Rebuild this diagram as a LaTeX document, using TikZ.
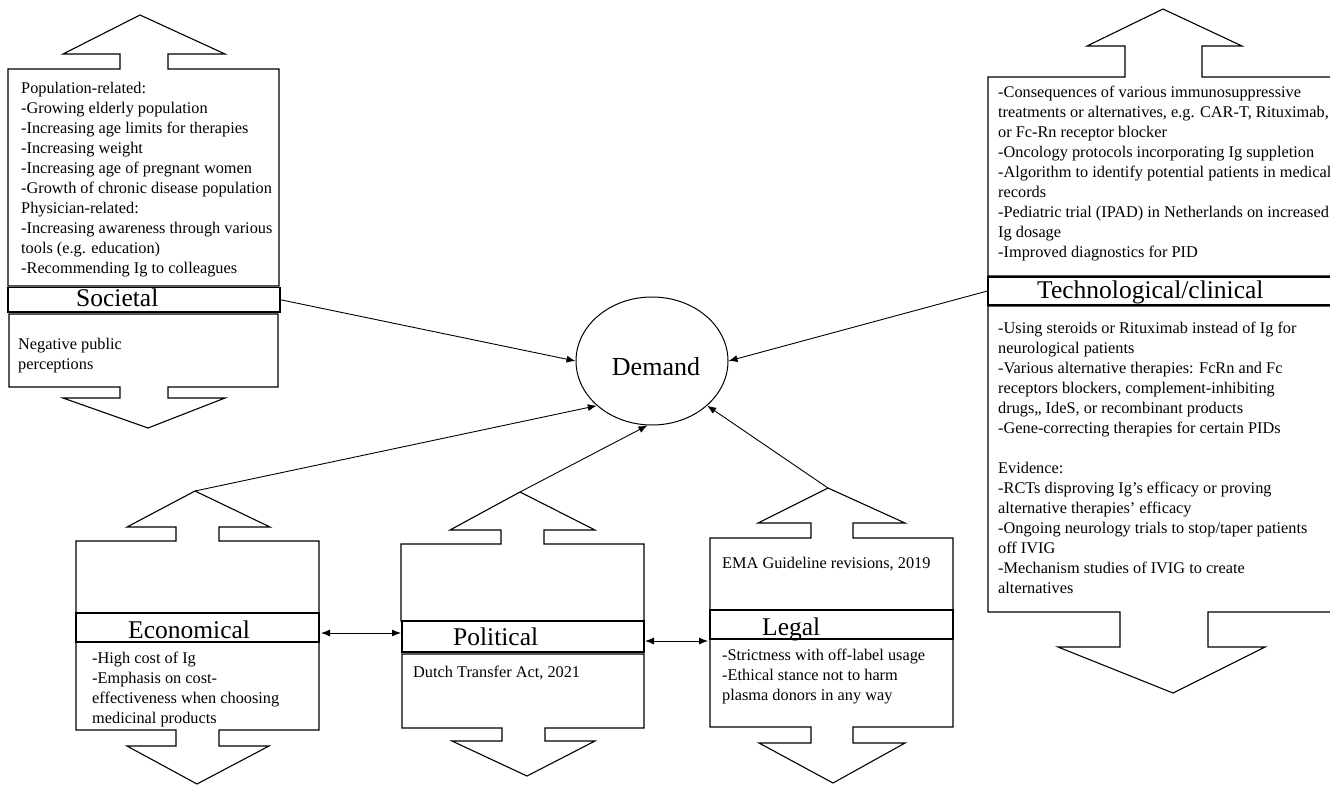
\documentclass[tikz,border=0pt]{standalone}
\usepackage{fontspec}
\setmainfont{Liberation Serif}
\usetikzlibrary{arrows.meta,shapes.geometric}
\tikzset{
  blk/.style={draw, line width=1.1pt, line join=miter},
  lab/.style={draw, line width=1.1pt, inner sep=0pt, rectangle},
  body/.style={anchor=base west, inner sep=0pt, align=left, font=\fontsize{16.3}{20}\selectfont},
  ttl/.style={anchor=base west, inner sep=0pt, font=\fontsize{25.5}{30}\selectfont},
  conn/.style={line width=0.9pt, -{Latex[length=9pt,width=7pt]}},
  dconn/.style={line width=0.9pt, {Latex[length=9pt,width=7pt]}-{Latex[length=9pt,width=7pt]}},
}
\begin{document}
\begin{tikzpicture}[x=1pt,y=-1pt]
\useasboundingbox (0,0) rectangle (1330,785);
\clip (0,0) rectangle (1330,785);

% ---------- Societal ----------
\draw[blk] (8,286) -- (8,69) -- (120,69) -- (120,54) -- (63,54) -- (140,15) -- (225,54) -- (168,54) -- (168,69) -- (279,69) -- (279,286) -- cycle;
\node[lab, minimum width=272pt, minimum height=24.5pt] (soclab) at (144,299.75) {};
\draw[blk] (9,314) -- (278,314) -- (278,387) -- (168,387) -- (168,398) -- (225,398) -- (148,428) -- (63,398) -- (120,398) -- (120,387) -- (9,387) -- cycle;
\node[ttl] (soctitle) at (76,306) {Societal};
% base anchor = baseline of the last line
\node[body] (soctxt) at (21,273) {Population-related:\\
-Growing elderly population\\
-Increasing age limits for therapies\\
-Increasing weight\\
-Increasing age of pregnant women\\
-Growth of chronic disease population\\
Physician-related:\\
-Increasing awareness through various\\
tools (e.g. education)\\
-Recommending Ig to colleagues};
\node[body] (socneg) at (18,369) {Negative public\\perceptions};

% ---------- Technological/clinical ----------
\draw[blk] (988,276) -- (988,77) -- (1125,77) -- (1125,46) -- (1087,46) -- (1163,9) -- (1242,46) -- (1202,46) -- (1202,77) -- (1345,77) -- (1345,276) -- cycle;
\node[lab, minimum width=357pt, minimum height=28pt] (techlab) at (1166.5,291) {};
\draw[blk] (988,306) -- (1345,306) -- (1345,612) -- (1208,612) -- (1208,647) -- (1265,647) -- (1173,693) -- (1058,647) -- (1120,647) -- (1120,612) -- (988,612) -- cycle;
\node[ttl] (techtitle) at (1037,298) {Technological/clinical};
\node[body] (techtxt) at (998,257) {-Consequences of various immunosuppressive\\
treatments or alternatives, e.g. CAR-T, Rituximab,\\
or Fc-Rn receptor blocker\\
-Oncology protocols incorporating Ig suppletion\\
-Algorithm to identify potential patients in medical\\
records\\
-Pediatric trial (IPAD) in Netherlands on increased\\
Ig dosage\\
-Improved diagnostics for PID};
\node[body] (techtxt2) at (998,593) {-Using steroids or Rituximab instead of Ig for\\
neurological patients\\
-Various alternative therapies: FcRn and Fc\\
receptors blockers, complement-inhibiting\\
drugs,, IdeS, or recombinant products\\
-Gene-correcting therapies for certain PIDs\\[20pt]
Evidence:\\
-RCTs disproving Ig’s efficacy or proving\\
alternative therapies’ efficacy\\
-Ongoing neurology trials to stop/taper patients\\
off IVIG\\
-Mechanism studies of IVIG to create\\
alternatives};

% ---------- Economical ----------
\coordinate (econtip) at (195,491);
\draw[blk] (76,613) -- (76,541) -- (176,541) -- (176,527) -- (127,527) -- (econtip) -- (270,527) -- (219,527) -- (219,541) -- (319,541) -- (319,613) -- cycle;
\node[lab, minimum width=243pt, minimum height=29pt] (econlab) at (197.5,627.5) {};
\draw[blk] (76,642) -- (319,642) -- (319,730) -- (219,730) -- (219,746) -- (269,746) -- (197,784) -- (127,746) -- (176,746) -- (176,730) -- (76,730) -- cycle;
\node[ttl] (econtitle) at (128,638) {Economical};
\node[body] (econtxt) at (92,723) {-High cost of Ig\\
-Emphasis on cost-\\
effectiveness when choosing\\
medicinal products};

% ---------- Political ----------
\coordinate (poltip) at (520,492);
\draw[blk] (401,621) -- (401,544) -- (501,544) -- (501,530) -- (450,530) -- (poltip) -- (595,530) -- (544,530) -- (544,544) -- (644,544) -- (644,621) -- cycle;
\node[lab, minimum width=242pt, minimum height=31pt] (pollab) at (523,636.5) {};
\draw[blk] (402,654) -- (644,654) -- (644,728) -- (545,728) -- (545,741) -- (595,741) -- (527,776) -- (452,741) -- (502,741) -- (502,728) -- (402,728) -- cycle;
\node[ttl] (poltitle) at (453,645) {Political};
\node[body] (poltxt) at (413,677) {Dutch Transfer Act, 2021};

% ---------- Legal ----------
\coordinate (legtip) at (828,488);
\draw[blk] (710,610) -- (710,538) -- (811,538) -- (811,523) -- (758,523) -- (legtip) -- (905,523) -- (853,523) -- (853,538) -- (953,538) -- (953,610) -- cycle;
\node[lab, minimum width=243pt, minimum height=29pt] (leglab) at (831.5,624.5) {};
\draw[blk] (710,639) -- (953,639) -- (953,727) -- (853,727) -- (853,743) -- (905,743) -- (833,783) -- (759,743) -- (811,743) -- (811,727) -- (710,727) -- cycle;
\node[ttl] (legtitle) at (762,635) {Legal};
\node[body] (legtxt1) at (722,568) {EMA Guideline revisions, 2019};
\node[body] (legtxt2) at (722,700) {-Strictness with off-label usage\\
-Ethical stance not to harm\\
plasma donors in any way};

% ---------- Demand ----------
\node[draw, ellipse, line width=1pt, minimum width=152pt, minimum height=128pt, inner sep=0pt,
      font=\fontsize{26}{30}\selectfont] (dem) at (652,361)
      {\raisebox{-6pt}[\height][\depth]{\hspace*{8pt}Demand}};

% ---------- Connectors ----------
\draw[conn] (soclab.east) -- (dem.180);
\draw[conn] (techlab.west) -- (dem.0);
\draw[conn] (econtip) -- (dem.219);
\draw[conn] (poltip) -- (dem.266);
\draw[conn] (legtip) -- (dem.321);

\coordinate (epA) at (321,633);
\coordinate (epB) at (401,633);
\coordinate (plA) at (645,641);
\coordinate (plB) at (708,641);
\draw[dconn] (epA) -- (epB);
\draw[dconn] (plA) -- (plB);
\end{tikzpicture}
\end{document}
